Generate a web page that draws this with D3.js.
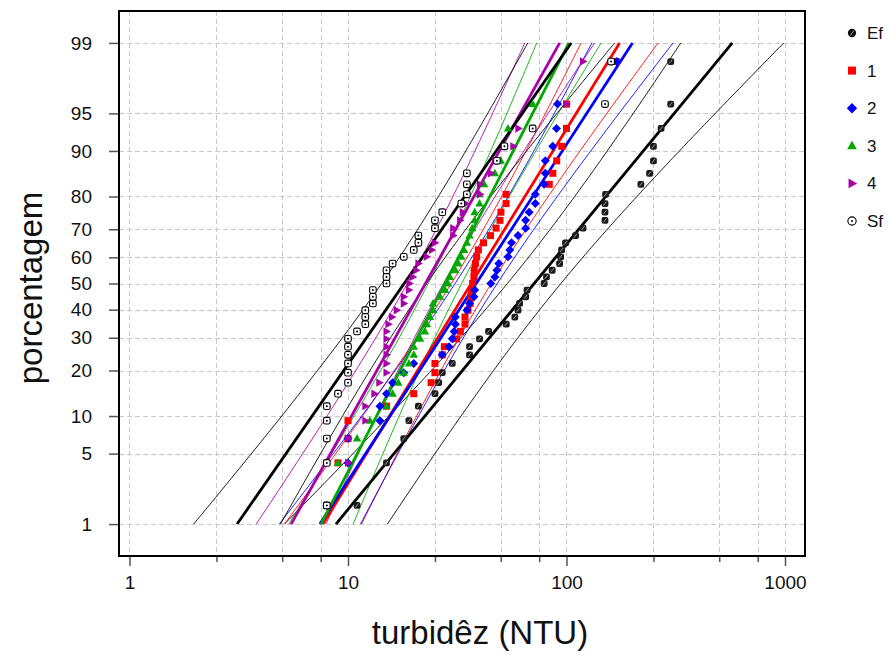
<!DOCTYPE html>
<html><head><meta charset="utf-8">
<script src="https://cdn.jsdelivr.net/npm/d3@7"></script>
<style>
body{margin:0;background:#fff}
svg{font-family:Arial,"Liberation Sans",sans-serif}
</style></head>
<body><svg id="chart" width="891" height="655"></svg>
<script>
// ---------- data (turbidity, NTU) ----------
const seriesNames = ["Ef","1","2","3","4","Sf"];
const seriesColors = ["#000000","#ff0000","#0000ff","#00a800","#aa00aa","#000000"];
const efValues = [11,15,18,19,21,25,26,27,30,36,36,40,44,53,58,60,61,65,66,79,81,86,93,94,95,99,110,119,150,150,150,151,219,240,250,250,271,300,300];
const s1Values = [8,9,10,10,15,20,24,25,25,27,27.6,31.4,32.7,34.3,34.3,35.4,36.2,36.5,36.8,37.2,37.7,37.8,38.3,38.8,39.5,41.7,44.9,47.6,49.6,50.1,52.9,52.9,83.4,86.6,90.2,95.1,100,100,169];
const s2Values = [8,10,10,14,14,15,16,18,20,27,29,30,30.6,31,31,35,36,37.7,38,45,47,48,49,54,55,56,60,65,65,67.5,72,72,79,80,80,86.5,90,91,170];
const s3Values = [8,9,11,12.6,15,16,17,18,19,20,20,21.4,22.5,23,23.7,24.5,24.5,26.4,27.8,28.7,29.3,31,32,33,34,35,36,37,38,38,40,40,42,47,50,52,54,70,160];
const s4Values = [8,10,10,12,12,13.2,13.9,15,15,15,15,15,15,15.3,15.9,16.7,18,18,19,19.1,19.8,20.5,21,22.9,24.2,25,30.3,30.3,32.6,33.5,34.5,40.2,40.2,45.1,47,57.1,60.2,100,119];
const sfValues = [8,8,8,8,8,9,10,10,10,10,10,10,11,12,12,12,13,13,13,15,15,15,16,18,20,21,21,25,25,27,33,35,35,35,48,52,70,150,160];
const xTickValues = [1,10,100,1000];
const xGridValues = [1,2.5,5,7.5,10,25,50,75,100,250,500,750,1000];
const yTickValues = [1,5,10,20,30,40,50,60,70,80,90,95,99];
const xLabel = "turbidêz (NTU)";
const yLabel = "porcentagem";

const seriesValues = [efValues,s1Values,s2Values,s3Values,s4Values,sfValues];

// ---------- helpers ----------
function probit(p){
 const a=[-3.969683028665376e+01,2.209460984245205e+02,-2.759285104469687e+02,1.383577518672690e+02,-3.066479806614716e+01,2.506628277459239e+00];
 const b=[-5.447609879822406e+01,1.615858368580409e+02,-1.556989798598866e+02,6.680131188771972e+01,-1.328068155288572e+01];
 const c=[-7.784894002430293e-03,-3.223964580411365e-01,-2.400758277161838e+00,-2.549732539343734e+00,4.374664141464968e+00,2.938163982698783e+00];
 const d=[7.784695709041462e-03,3.224671290700398e-01,2.445134137142996e+00,3.754408661907416e+00];
 const pl=0.02425, ph=1-pl; let q,r;
 if(p<pl){q=Math.sqrt(-2*Math.log(p));return (((((c[0]*q+c[1])*q+c[2])*q+c[3])*q+c[4])*q+c[5])/((((d[0]*q+d[1])*q+d[2])*q+d[3])*q+1);}
 if(p<=ph){q=p-0.5;r=q*q;return (((((a[0]*r+a[1])*r+a[2])*r+a[3])*r+a[4])*r+a[5])*q/(((((b[0]*r+b[1])*r+b[2])*r+b[3])*r+b[4])*r+1);}
 q=Math.sqrt(-2*Math.log(1-p));return -(((((c[0]*q+c[1])*q+c[2])*q+c[3])*q+c[4])*q+c[5])/((((d[0]*q+d[1])*q+d[2])*q+d[3])*q+1);
}

// ---------- layout ----------
const L=119, R=805, T=11, B=556;
const svg = d3.select("#chart");
const x = d3.scaleLog().domain([0.8953,1234.6]).range([L,R]);
const y = d3.scaleLinear().domain([-2.635,2.635]).range([B,T]);   // standard-normal quantile
const yp = p => y(probit(p/100));

// grid
const grid = svg.append("g").attr("stroke","#c8c8c8").attr("stroke-width",1).attr("stroke-dasharray","5,3");
grid.selectAll("line.v").data(xGridValues).join("line").attr("class","v")
  .attr("x1",d=>Math.round(x(d))+0.5).attr("x2",d=>Math.round(x(d))+0.5).attr("y1",T).attr("y2",B);
grid.selectAll("line.h").data(yTickValues).join("line").attr("class","h")
  .attr("y1",d=>Math.round(yp(d))+0.5).attr("y2",d=>Math.round(yp(d))+0.5).attr("x1",L).attr("x2",R);

// axes
const xAxis = svg.append("g").attr("transform",`translate(0,${B})`)
  .call(d3.axisBottom(x).tickValues(xTickValues).tickFormat(d3.format("d")).tickSize(10).tickPadding(10));
const xAxisMinor = svg.append("g").attr("transform",`translate(0,${B})`)
  .call(d3.axisBottom(x).tickValues(xGridValues.filter(v=>!xTickValues.includes(v))).tickFormat("").tickSize(6));
const yAxis = svg.append("g").attr("transform",`translate(${L},0)`)
  .call(d3.axisLeft(y).tickValues(yTickValues.map(p=>probit(p/100))).tickFormat((d,i)=>yTickValues[i]).tickSize(10).tickPadding(17));
[xAxis,xAxisMinor,yAxis].forEach(g=>{
  g.select(".domain").remove();
  g.selectAll(".tick line").attr("stroke","#555").attr("stroke-width",1.5);
  g.selectAll("text").attr("font-size",19).attr("fill","#111");
});

// fits + confidence bands (lognormal, MLE)
const clipId="plotclip";
svg.append("clipPath").attr("id",clipId).append("rect").attr("x",L).attr("y",T).attr("width",R-L).attr("height",B-T);
const lineLayer = svg.append("g").attr("clip-path",`url(#${clipId})`);
const pointLayer = svg.append("g");
const zs = d3.range(0,201).map(i=>-2.3263+i*(4.6526/200));
const fits = seriesValues.map(vals=>{
  const lv = vals.map(Math.log10), n=lv.length;
  const mu = d3.mean(lv);
  const s = Math.sqrt(d3.sum(lv,v=>(v-mu)*(v-mu))/n);
  return {mu,s,n};
});
const lineGen = d3.line().x(d=>x(d[0])).y(d=>y(d[1]));
fits.forEach((f,k)=>{
  const col = seriesColors[k];
  const hw = z => 1.96*f.s*Math.sqrt((1+z*z/2)/f.n);
  lineLayer.append("path").attr("fill","none").attr("stroke",col).attr("stroke-width",0.9)
    .attr("d",lineGen(zs.map(z=>[Math.pow(10,f.mu+z*f.s-hw(z)),z])));
  lineLayer.append("path").attr("fill","none").attr("stroke",col).attr("stroke-width",0.9)
    .attr("d",lineGen(zs.map(z=>[Math.pow(10,f.mu+z*f.s+hw(z)),z])));
});
fits.forEach((f,k)=>{
  lineLayer.append("path").attr("fill","none").attr("stroke",seriesColors[k]).attr("stroke-width",2.8)
    .attr("d",lineGen([[Math.pow(10,f.mu-2.3263*f.s),-2.3263],[Math.pow(10,f.mu+2.3263*f.s),2.3263]]));
});

// markers
function marker(g,k,cx,cy,sc,legend){
  sc = sc||1;
  const col=seriesColors[k];
  if(k===0){
    if(legend){
      g.append("circle").attr("cx",cx).attr("cy",cy).attr("r",3.6*sc).attr("fill","#111");
    } else {
      g.append("rect").attr("x",cx-3.4).attr("y",cy-3.4).attr("width",6.8).attr("height",6.8).attr("rx",2).attr("fill","#1a1a1a");
    }
    g.append("line").attr("x1",cx-1.5*sc).attr("y1",cy+2*sc).attr("x2",cx+1.5*sc).attr("y2",cy-2*sc).attr("stroke","#999").attr("stroke-width",1);
  } else if(k===1){
    g.append("rect").attr("x",cx-3.5*sc).attr("y",cy-3.5*sc).attr("width",7*sc).attr("height",7*sc).attr("fill",col);
  } else if(k===2){
    const h=4.5*sc;
    g.append("path").attr("d",`M${cx},${cy-h}L${cx+h},${cy}L${cx},${cy+h}L${cx-h},${cy}Z`).attr("fill",col);
  } else if(k===3){
    g.append("path").attr("d",`M${cx},${cy-4.5*sc}L${cx+4.2*sc},${cy+3*sc}L${cx-4.2*sc},${cy+3*sc}Z`).attr("fill",col);
  } else if(k===4){
    g.append("path").attr("d",`M${cx+4.5*sc},${cy}L${cx-3*sc},${cy-4.2*sc}L${cx-3*sc},${cy+4.2*sc}Z`).attr("fill",col);
  } else {
    if(legend){
      g.append("circle").attr("cx",cx).attr("cy",cy).attr("r",3.6*sc).attr("fill","#fff").attr("stroke","#000").attr("stroke-width",1.1);
    } else {
      g.append("rect").attr("x",cx-3.3).attr("y",cy-3.3).attr("width",6.6).attr("height",6.6).attr("rx",1.8)
        .attr("fill","#fff").attr("stroke","#000").attr("stroke-width",1.1);
    }
    g.append("circle").attr("cx",cx).attr("cy",cy).attr("r",1).attr("fill","#000");
  }
}
seriesValues.forEach((vals,k)=>{
  const sorted = vals.slice().sort((a,b)=>a-b), n=sorted.length;
  const g = pointLayer.append("g");
  sorted.forEach((v,i)=>{
    const p = (i+1-0.375)/(n+0.25);
    marker(g,k,x(v),y(probit(p)));
  });
});

// frame
svg.append("rect").attr("x",L).attr("y",T).attr("width",R-L).attr("height",B-T)
  .attr("fill","none").attr("stroke","#000").attr("stroke-width",2);

// titles
svg.append("text").attr("x",(L+R)/2+18).attr("y",644).attr("text-anchor","middle")
  .attr("font-size",33).attr("fill","#111").text(xLabel);
svg.append("text").attr("transform","translate(42,288) rotate(-90)").attr("text-anchor","middle")
  .attr("font-size",33).attr("fill","#111").text(yLabel);

// legend
const lg = svg.append("g");
seriesNames.forEach((name,k)=>{
  const cy = 33 + k*37.6;
  marker(lg,k,852,cy,1.15,true);
  lg.append("text").attr("x",867).attr("y",cy+6).attr("font-size",17).attr("fill","#111").text(name);
});
</script></body></html>
